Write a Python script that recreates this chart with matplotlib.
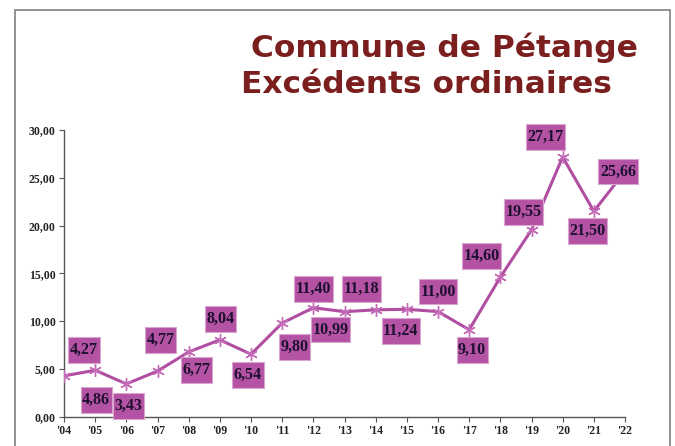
import matplotlib
matplotlib.use("Agg")
import matplotlib.pyplot as plt
from matplotlib.path import Path
from matplotlib.patches import Rectangle

years = ["'04", "'05", "'06", "'07", "'08", "'09", "'10", "'11", "'12", "'13",
         "'14", "'15", "'16", "'17", "'18", "'19", "'20", "'21", "'22"]
values = [4.27, 4.86, 3.43, 4.77, 6.77, 8.04, 6.54, 9.80, 11.40, 10.99,
          11.18, 11.24, 11.00, 9.10, 14.60, 19.55, 27.17, 21.50, 25.66]
yticks = [0, 5, 10, 15, 20, 25, 30]
title1 = "Commune de Pétange"
title2 = "Excédents ordinaires"

# label offsets in pixels (layout only)
label_dx = [20, 1, 2, 3, 8, 1, -3, 12, 0, -14, -14, -6, 0, 3, -19, -8, -17, -6, -7]
label_dy = [26, -30, -22, 31, -18, 21, -21, -24, 19, -18, 21, -22, 20, -20, 21, 18, 20, -20, 0]

W, H = 675, 446
fig = plt.figure(figsize=(W / 100, H / 100), dpi=100)
fig.patch.set_facecolor("white")

# outer frame
fig.patches.append(Rectangle((15 / W, -0.2), (670 - 15) / W, 1.2 - 10 / H,
                             transform=fig.transFigure, fill=False,
                             edgecolor="#8a8a8a", linewidth=1.3))

ax = fig.add_axes([64 / W, 1 - 416.7 / H, (625 - 64) / W, (416.7 - 130) / H])
x = list(range(len(years)))
ax.plot(x, values, color="#B04EA1", linewidth=2.2, marker=(6, 2, 0),
        markersize=9, markeredgecolor="#C46CB8", markeredgewidth=1.0, zorder=3)

ax.set_xlim(0, len(years) - 1)
ax.set_ylim(0, 30)
ax.set_xticks(x)
ax.set_xticklabels(years)
ax.set_yticks(yticks)
ax.set_yticklabels([f"{v:.2f}".replace(".", ",") for v in yticks])
for s in ["top", "right"]:
    ax.spines[s].set_visible(False)
for s in ["left", "bottom"]:
    ax.spines[s].set_color("#555555")
    ax.spines[s].set_linewidth(1.0)
ax.tick_params(axis="both", direction="out", length=3.5, width=0.8, color="#555555",
               labelsize=8.5, labelcolor="#222222", pad=2.5)
for lab in ax.get_xticklabels() + ax.get_yticklabels():
    lab.set_fontfamily("Liberation Serif")
    lab.set_fontweight("bold")


def tight_box(x0, y0, width, height, mutation_size):
    px = 0.1 * mutation_size
    py = 0.3 * mutation_size
    x0 -= px
    y0 -= py
    x1 = x0 + width + 2 * px
    y1 = y0 + height + 2 * py
    return Path([(x0, y0), (x1, y0), (x1, y1), (x0, y1), (x0, y0)], closed=True)


for xi, v, dx, dy in zip(x, values, label_dx, label_dy):
    ax.annotate(f"{v:.2f}".replace(".", ","), (xi, v), xytext=(dx * 0.72, dy * 0.72),
                textcoords="offset points", ha="center", va="center",
                fontsize=11.5, fontfamily="Liberation Serif", fontweight="bold",
                color="#1E1030", zorder=5,
                bbox=dict(boxstyle=tight_box, facecolor="#B452A4",
                          edgecolor="#D8A6CF", linewidth=0.8))

fig.text(251 / W, 1 - 57 / H, title1, ha="left", va="baseline",
         fontsize=22.5, fontweight="bold", fontfamily="DejaVu Sans", color="#7A1E1E")
fig.text(241 / W, 1 - 93 / H, title2, ha="left", va="baseline",
         fontsize=22.5, fontweight="bold", fontfamily="DejaVu Sans", color="#7A1E1E")

fig.savefig("out.png", dpi=100)
